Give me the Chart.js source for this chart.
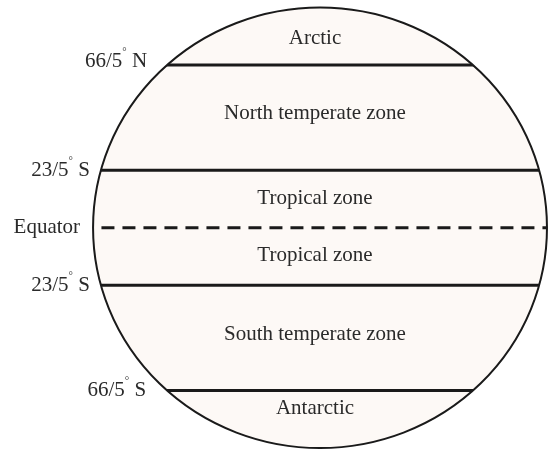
<!DOCTYPE html>
<html>
<head>
<meta charset="utf-8">
<script src="https://cdn.jsdelivr.net/npm/chart.js@4/dist/chart.umd.min.js"></script>
<style>
  html, body { margin: 0; padding: 0; background: #fff; }
  canvas { display: block; }
</style>
</head>
<body>
<canvas id="globe" width="549" height="450"></canvas>
<script>
// Climate zones of the globe — latitude lines drawn as line datasets,
// the globe itself is clipped / outlined through the chart scales.

// ── Data ─────────────────────────────────────────────
const latLines   = [66.5, 23.5, 0, -23.5, -66.5];
const latNumbers = ['66/5', '23/5', 'Equator', '23/5', '66/5'];
const latDirs    = ['N', 'S', '', 'S', 'S'];
const zoneNames  = ['Arctic', 'North temperate zone', 'Tropical zone', 'Tropical zone', 'South temperate zone', 'Antarctic'];
const zoneLats   = [77.5, 46.5, 12, -11.5, -43.5, -74];

// ── Style ────────────────────────────────────────────
const GLOBE_R   = 90;               // globe radius in axis units
const TEXT_X    = -2;               // zone text centre (x units)
const labelGap  = [20, 11, 13, 11, 21];
const labelDy   = [-4, 0, 0, 0, 0];
const FONT      = '"Liberation Serif", "DejaVu Serif", serif';
const INK       = '#1a1a1a';
const FILL      = '#fdf9f6';

function globeGeom(chart) {
  const { x, y } = chart.scales;
  const cx = x.getPixelForValue(0);
  const cy = y.getPixelForValue(0);
  const rx = x.getPixelForValue(GLOBE_R) - cx;
  const ry = cy - y.getPixelForValue(GLOBE_R);
  return { cx, cy, rx, ry };
}

// Fill globe and clip the latitude lines to it
const globePlugin = {
  id: 'globe',
  beforeDatasetsDraw(chart) {
    const ctx = chart.ctx;
    const g = globeGeom(chart);
    ctx.save();
    ctx.beginPath();
    ctx.ellipse(g.cx, g.cy, g.rx, g.ry, 0, 0, Math.PI * 2);
    ctx.fillStyle = FILL;
    ctx.fill();
    ctx.clip();
  },
  afterDatasetsDraw(chart) {
    const ctx = chart.ctx;
    const { x, y } = chart.scales;
    ctx.restore();
    const g = globeGeom(chart);

    // outline
    ctx.save();
    ctx.beginPath();
    ctx.ellipse(g.cx, g.cy, g.rx, g.ry, 0, 0, Math.PI * 2);
    ctx.lineWidth = 2;
    ctx.strokeStyle = INK;
    ctx.stroke();

    // zone names
    ctx.font = '21px ' + FONT;
    ctx.fillStyle = '#2a2a2a';
    ctx.textAlign = 'center';
    ctx.textBaseline = 'middle';
    zoneNames.forEach((name, i) => {
      ctx.fillText(name, x.getPixelForValue(TEXT_X), y.getPixelForValue(zoneLats[i]));
    });

    // latitude labels left of the globe edge
    latLines.forEach((lat, i) => {
      const py = y.getPixelForValue(lat) + labelDy[i];
      const half = g.rx * Math.sqrt(1 - Math.pow(lat / GLOBE_R, 2));
      let xr = g.cx - half - labelGap[i];
      ctx.font = '21px ' + FONT;
      ctx.textBaseline = 'middle';
      if (!latDirs[i]) {
        ctx.textAlign = 'right';
        ctx.fillText(latNumbers[i], xr, py);
        return;
      }
      const wDir = ctx.measureText(latDirs[i]).width;
      const wSp = ctx.measureText(' ').width;
      ctx.textAlign = 'left';
      ctx.fillText(latDirs[i], xr - wDir, py);
      xr -= wDir + wSp;
      ctx.font = '11px ' + FONT;
      const wDeg = ctx.measureText('°').width;
      ctx.fillText('°', xr - wDeg, py - 9);
      xr -= wDeg;
      ctx.font = '21px ' + FONT;
      ctx.textAlign = 'right';
      ctx.fillText(latNumbers[i], xr, py);
    });
    ctx.restore();
  }
};

const datasets = latLines.map(lat => ({
  type: 'line',
  data: [{ x: -GLOBE_R - 5, y: lat }, { x: GLOBE_R + 5, y: lat }],
  borderColor: INK,
  borderWidth: 3,
  borderDash: lat === 0 ? [13, 8] : [],
  pointRadius: 0,
  fill: false,
}));

new Chart(document.getElementById('globe'), {
  type: 'scatter',
  data: { datasets },
  options: {
    responsive: false,
    animation: false,
    layout: { padding: 0 },
    plugins: { legend: { display: false }, tooltip: { enabled: false } },
    scales: {
      x: { type: 'linear', min: -126.9, max: 90.8, display: false },
      y: { type: 'linear', min: -90.8, max: 93.06, display: false }
    }
  },
  plugins: [globePlugin]
});
</script>
</body>
</html>
